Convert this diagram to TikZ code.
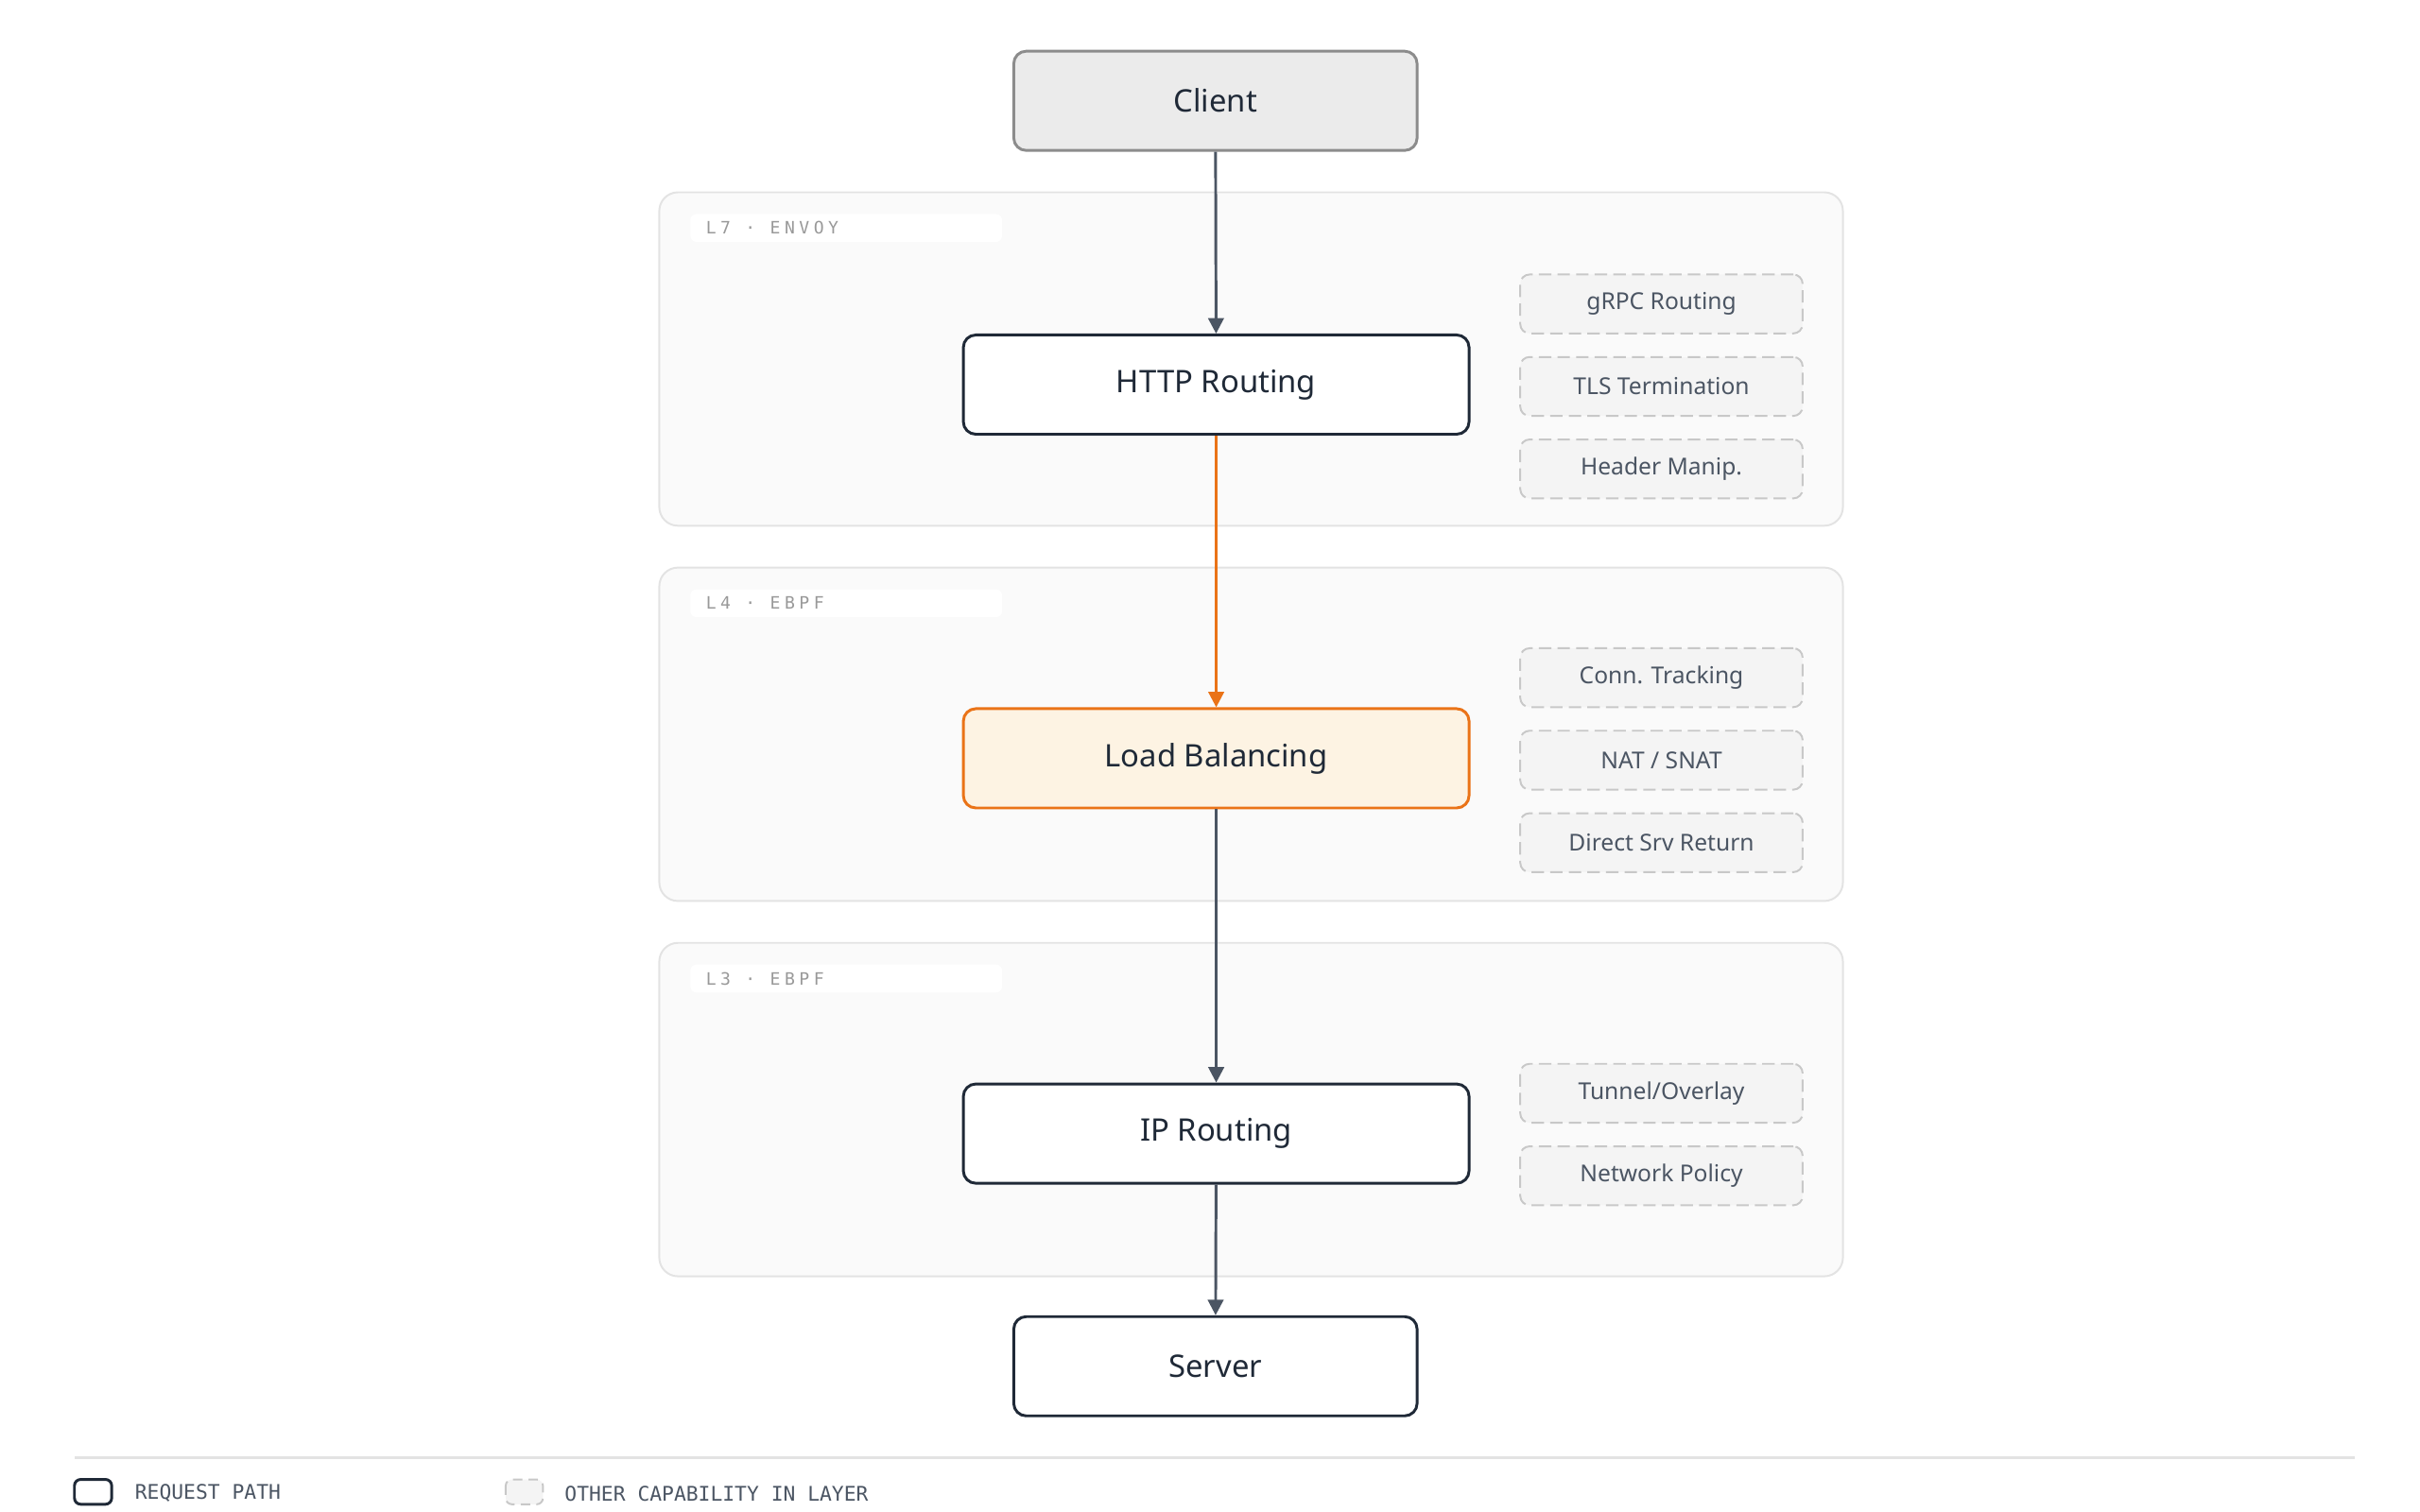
\documentclass[tikz,border=0pt]{standalone}
\usepackage{fontspec}
\setmainfont{Noto Sans}
\newfontfamily\monolbl[LetterSpace=25]{DejaVu Sans Mono}
\newfontfamily\monolgd{DejaVu Sans Mono}
\usetikzlibrary{positioning,arrows.meta}
\definecolor{ink}{HTML}{1F2937}
\definecolor{wire}{HTML}{4B5563}
\definecolor{accent}{HTML}{EA7317}
\definecolor{accentfill}{HTML}{FDF3E3}
\definecolor{panelfill}{HTML}{FAFAFA}
\definecolor{panelline}{HTML}{E3E3E3}
\definecolor{capline}{HTML}{C8C8C8}
\definecolor{capfill}{HTML}{F4F4F4}
\tikzset{
  line/.style={-{Triangle[length=5pt,width=5pt]}, line width=0.9pt, draw=wire},
  box/.style={draw=ink, line width=0.9pt, rounded corners=4pt, fill=white, align=center,
    minimum width=163pt, minimum height=32pt, font=\bfseries\fontsize{10}{12}\selectfont, text=ink},
  endbox/.style={box, minimum width=130pt},
  capbox/.style={draw=capline, dashed, dash pattern=on 4pt off 2pt, line width=0.6pt, rounded corners=3pt,
    fill=capfill, minimum width=91pt, minimum height=19pt, font=\fontsize{7.5}{9}\selectfont, text=wire},
  panel/.style={draw=panelline, line width=0.6pt, fill=panelfill, rounded corners=6pt},
  layerlbl/.style={font=\monolbl\fontsize{5.5}{7}\selectfont, text=gray!80, anchor=west}
}
\begin{document}
\begin{tikzpicture}[x=0.5pt,y=-0.5pt]
  \useasboundingbox (0,0) rectangle (1560,975);
  % layers
  \foreach \top/\name in {124/L7 · ENVOY, 366/L4 · EBPF, 608/L3 · EBPF}{
    \draw[panel] (425,\top) rectangle (1188,\top+215);
    \fill[white, rounded corners=2pt] (445,\top+14) rectangle (646,\top+32);
    \node[layerlbl] at (448,\top+23) {\name};
  }
  % request path
  \node[endbox, fill=black!8, draw=gray!90] (client) at (783.5,65) {Client};
  \node[box] (http) at (784,248) {HTTP Routing};
  \node[box, draw=accent, fill=accentfill] (lb) at (784,489) {Load Balancing};
  \node[box] (ip) at (784,731) {IP Routing};
  \node[endbox] (server) at (783.5,881) {Server};
  \draw[line] (client) -- (http);
  \draw[line, draw=accent, -{Triangle[length=5pt,width=5pt]}, color=accent] (http) -- (lb);
  \draw[line] (lb) -- (ip);
  \draw[line] (ip) -- (server);
  % capabilities
  \node[capbox] (grpc) at (1071,196) {gRPC Routing};
  \node[capbox, below=7pt of grpc] (tls) {TLS Termination};
  \node[capbox, below=7pt of tls] (hdr) {Header Manip.};
  \node[capbox] (conn) at (1071,437) {Conn. Tracking};
  \node[capbox, below=7pt of conn] (nat) {NAT / SNAT};
  \node[capbox, below=7pt of nat] (dsr) {Direct Srv Return};
  \node[capbox] (tun) at (1071,705) {Tunnel/Overlay};
  \node[capbox, below=7pt of tun] (pol) {Network Policy};
  % legend
  \draw[panelline, line width=0.8pt] (48,940) -- (1518,940);
  \draw[ink, line width=0.9pt, rounded corners=2pt] (48,954) rectangle (72,970);
  \node[anchor=west, font=\monolgd\fontsize{6.5}{8}\selectfont, text=wire] (lgdreq) at (80,963) {REQUEST PATH};
  \draw[capline, dashed, dash pattern=on 3pt off 2pt, fill=capfill, line width=0.6pt, rounded corners=2pt] (326,954) rectangle (350,970);
  \node[anchor=west, font=\monolgd\fontsize{6.5}{8}\selectfont, text=wire] (lgdcap) at (357,963) {OTHER CAPABILITY IN LAYER};
\end{tikzpicture}
\end{document}
